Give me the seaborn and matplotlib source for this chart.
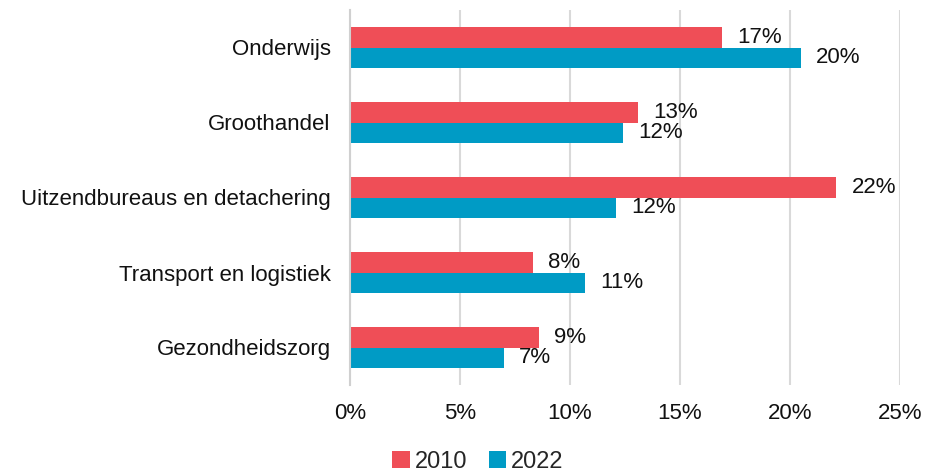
import matplotlib
matplotlib.use("Agg")
import matplotlib.pyplot as plt
import seaborn as sns
import pandas as pd
from matplotlib.patches import Patch

categories = ["Onderwijs", "Groothandel", "Uitzendbureaus en detachering",
              "Transport en logistiek", "Gezondheidszorg"]
values_2010 = [16.9, 13.1, 22.1, 8.3, 8.6]
values_2022 = [20.5, 12.4, 12.1, 10.7, 7.0]
labels_2010 = ["17%", "13%", "22%", "8%", "9%"]
labels_2022 = ["20%", "12%", "12%", "11%", "7%"]
years = ["2010", "2022"]
xticks = [0, 5, 10, 15, 20, 25]
xtick_labels = ["0%", "5%", "10%", "15%", "20%", "25%"]

colors = {"2010": "#EF4E57", "2022": "#009BC5"}

df = pd.DataFrame({
    "cat": categories * 2,
    "val": values_2010 + values_2022,
    "year": ["2010"] * len(categories) + ["2022"] * len(categories),
})

sns.set_style("white")
plt.rcParams["font.family"] = ["Liberation Sans", "DejaVu Sans"]

fig = plt.figure(figsize=(9.28, 4.75), dpi=100)
ax = fig.add_axes([350 / 928, 1 - 385 / 475, 550 / 928, 375 / 475])

sns.barplot(data=df, x="val", y="cat", hue="year", order=categories,
            hue_order=years, palette=colors, orient="h", width=0.55,
            ax=ax, legend=False, saturation=1, linewidth=0)

for cont, labs in zip(ax.containers, [labels_2010, labels_2022]):
    texts = ax.bar_label(cont, labels=labs, padding=11, fontsize=16, color="#111111")

ax.set_xlim(0, 25)
ax.set_ylim(len(categories) - 0.5, -0.5)
ax.set_xticks(xticks)
ax.set_xticklabels(xtick_labels, fontsize=16, color="#111111")
ax.tick_params(axis="x", pad=13, length=0)
ax.tick_params(axis="y", length=0, pad=14, labelsize=16, labelcolor="#111111")
ax.set_xlabel("")
ax.set_ylabel("")
ax.grid(axis="x", color="#d9d9d9", linewidth=1.5)
ax.set_axisbelow(True)
for s in ["top", "right", "bottom"]:
    ax.spines[s].set_visible(False)
ax.spines["left"].set_color("#d0d0d0")
ax.spines["left"].set_linewidth(1.5)

handles = [Patch(facecolor=colors[y], edgecolor="none") for y in years]
fig.legend(handles, years, loc="center", bbox_to_anchor=(478 / 928, 1 - 462 / 475),
           ncol=2, frameon=False, fontsize=17, handlelength=0.75, handleheight=0.75,
           handletextpad=0.2, columnspacing=0.9)

fig.savefig("out.png", dpi=100)
